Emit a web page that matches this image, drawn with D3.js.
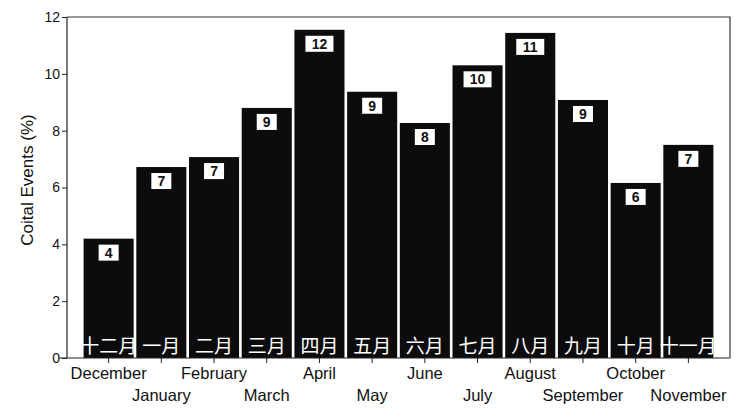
<!DOCTYPE html>
<html><head><meta charset="utf-8">
<script src="https://cdn.jsdelivr.net/npm/d3@7/dist/d3.min.js"></script>
<style>body{margin:0;background:#fff}svg{display:block}</style>
</head><body>
<svg id="c" width="746" height="413"></svg>
<script>
const months = ["December","January","February","March","April","May","June","July","August","September","October","November"];
const monthsZh = ["十二月","一月","二月","三月","四月","五月","六月","七月","八月","九月","十月","十一月"];
const values = [4.2, 6.72, 7.07, 8.8, 11.55, 9.37, 8.27, 10.3, 11.44, 9.08, 6.16, 7.5];
const valueLabels = ["4","7","7","9","12","9","8","10","11","9","6","7"];
const yTicks = [0,2,4,6,8,10,12];

const svg = d3.select("#c");
const L = 67, R = 730, T = 17, B = 358;
const x = d3.scaleBand().domain(months).range([L, R]).paddingInner(0.05).paddingOuter(0.315);
const y = d3.scaleLinear().domain([0, 12]).range([B, T]);
const font = "Arial, 'Liberation Sans', sans-serif";

// frame top/right
svg.append("path").attr("d", `M${L},${T}H${R}V${B}`).attr("fill","none").attr("stroke","#333").attr("stroke-width",1.2);

// bars
svg.selectAll("rect.bar").data(values).join("rect").attr("class","bar")
  .attr("x",(d,i)=>x(months[i])).attr("width",x.bandwidth())
  .attr("y",d=>y(d)).attr("height",d=>B-y(d)).attr("fill","#0c0c0c");

// value label boxes
const g = svg.selectAll("g.vl").data(values).join("g").attr("class","vl");
g.each(function(d,i){
  const s = valueLabels[i];
  const w = s.length>1 ? 28 : 20;
  const cx = x(months[i]) + x.bandwidth()/2;
  const top = y(d) + 6;
  d3.select(this).append("rect").attr("x",cx-w/2).attr("y",top).attr("width",w).attr("height",16).attr("fill","#fff");
  d3.select(this).append("text").attr("x",cx).attr("y",top+13).attr("text-anchor","middle")
    .attr("font-family",font).attr("font-size",14).attr("font-weight","bold").attr("fill","#111").text(s);
});

// Chinese month labels inside bars
svg.selectAll("text.zh").data(monthsZh).join("text").attr("class","zh")
  .attr("x",(d,i)=>x(months[i])+x.bandwidth()/2).attr("y",353).attr("text-anchor","middle")
  .attr("font-family","'Noto Sans CJK SC', sans-serif").attr("font-size",19).attr("fill","#fff").text(d=>d);

// y axis
const yAxis = d3.axisLeft(y).tickValues(yTicks).tickSize(5).tickFormat(d3.format("d"));
const ya = svg.append("g").attr("transform",`translate(${L},0)`).call(yAxis);
ya.select(".domain").attr("stroke","#222").attr("stroke-width",1.2).attr("d",`M0,${T}V${B}`);
ya.selectAll(".tick line").attr("stroke","#222");
ya.selectAll(".tick text").attr("font-family",font).attr("font-size",14).attr("fill","#111").attr("x",-7);

// x axis
const xAxis = d3.axisBottom(x).tickSize(5).tickFormat("");
const xa = svg.append("g").attr("transform",`translate(0,${B})`).call(xAxis);
xa.select(".domain").attr("stroke","#222").attr("stroke-width",1.2).attr("d",`M${L-8},0H${R}`);
xa.selectAll(".tick line").attr("stroke","#222");

svg.selectAll("text.xl").data(months).join("text").attr("class","xl")
  .attr("x",d=>x(d)+x.bandwidth()/2).attr("y",(d,i)=> i%2===0 ? 379 : 401)
  .attr("text-anchor","middle").attr("font-family",font).attr("font-size",16.5).attr("fill","#111").text(d=>d);

// y label
svg.append("text").attr("transform","translate(33,180) rotate(-90)").attr("text-anchor","middle")
  .attr("font-family",font).attr("font-size",17).attr("fill","#111").text("Coital Events (%)");
</script>
</body></html>
